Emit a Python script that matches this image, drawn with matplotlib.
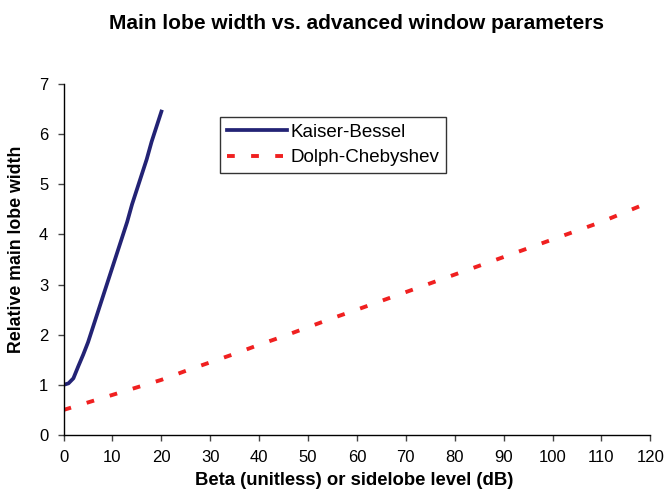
import matplotlib.pyplot as plt

plt.rcParams['font.family'] = ['Liberation Sans', 'DejaVu Sans']

# Kaiser-Bessel: beta 0..20
kb_beta = list(range(0, 21))
kb_width = [1.0, 1.03, 1.13, 1.37, 1.6, 1.85, 2.15, 2.45, 2.75, 3.05, 3.35,
            3.65, 3.95, 4.25, 4.6, 4.9, 5.2, 5.5, 5.85, 6.15, 6.45]

# Dolph-Chebyshev: sidelobe level 0..120 dB
dc_level = [0, 5, 10, 15, 20, 25, 30, 35, 40, 45, 50, 55, 60,
            70, 80, 90, 100, 110, 120]
dc_width = [0.5, 0.65, 0.8, 0.95, 1.1, 1.28, 1.45, 1.62, 1.8, 1.97, 2.15, 2.33, 2.5,
            2.85, 3.2, 3.55, 3.9, 4.25, 4.65]

fig = plt.figure(figsize=(6.66, 5), dpi=100)
ax = fig.add_axes([0.0955, 0.13, 0.881, 0.702])

ax.plot(kb_beta, kb_width, color='#232375', lw=2.7, label='Kaiser-Bessel')
ax.plot(dc_level, dc_width, color='#F02020', lw=2.8, dashes=(2.0, 4.2),
        label='Dolph-Chebyshev')

ax.set_xlim(0, 120)
ax.set_ylim(0, 7)
ax.set_xticks(range(0, 121, 10))
ax.set_yticks(range(0, 8))
ax.tick_params(direction='out', length=4, width=1, labelsize=12, color='#444444')
ax.tick_params(axis='x', pad=7)
ax.tick_params(axis='y', pad=7)
for s in ['top', 'right']:
    ax.spines[s].set_visible(False)
for s in ['left', 'bottom']:
    ax.spines[s].set_color('black')
    ax.spines[s].set_linewidth(1)

ax.set_xlabel('Beta (unitless) or sidelobe level (dB)', fontsize=13.3, fontweight='bold')
ax.set_ylabel('Relative main lobe width', fontsize=12.8, fontweight='bold')
ax.xaxis.set_label_coords(0.495, -0.105)
ax.yaxis.set_label_coords(-0.066, 0.53)
fig.text(0.535, 0.972, 'Main lobe width vs. advanced window parameters', fontsize=15,
         fontweight='bold', ha='center', va='top')

leg = ax.legend(loc='upper left', bbox_to_anchor=(0.267, 0.906), fontsize=13.5,
                frameon=True, fancybox=False, handlelength=3.2, borderpad=0.35,
                labelspacing=0.45, handletextpad=0.2, borderaxespad=0)
leg.get_frame().set_edgecolor('black')
leg.get_frame().set_linewidth(1)

fig.savefig('out.png', dpi=100)
